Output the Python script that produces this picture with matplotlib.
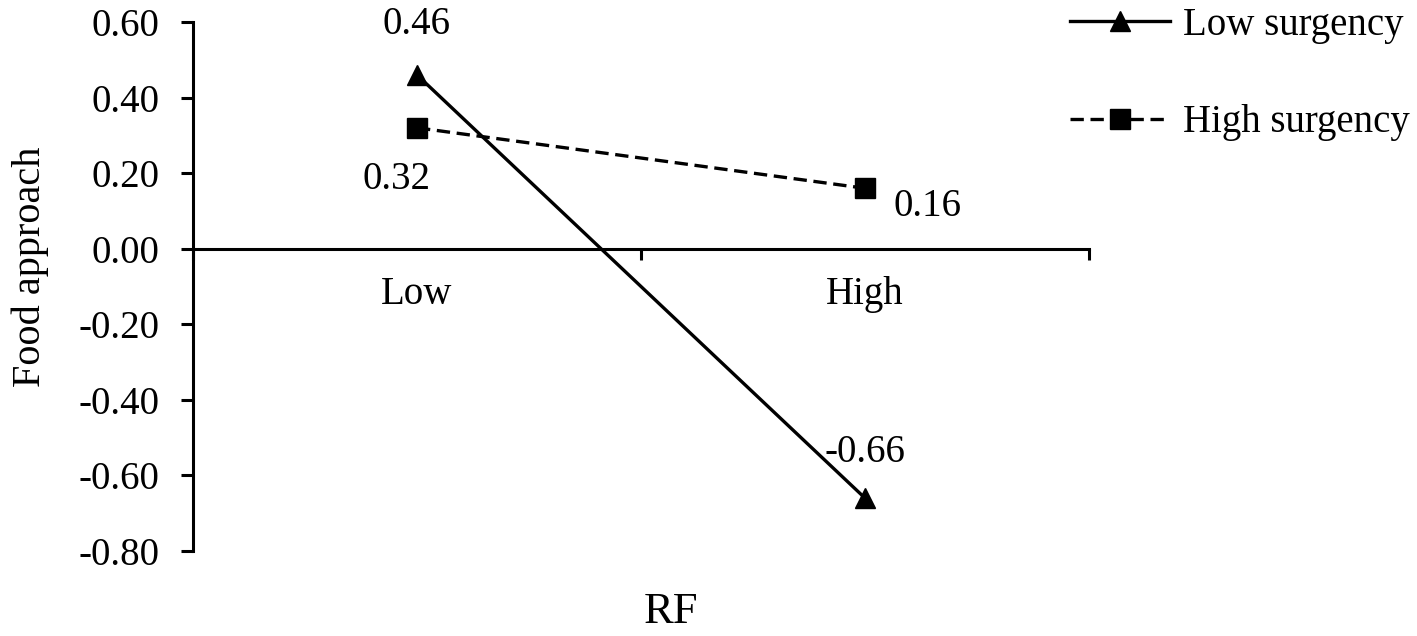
import matplotlib
matplotlib.use("Agg")
import matplotlib.pyplot as plt
from matplotlib.ticker import FixedLocator, FuncFormatter

plt.rcParams['font.family'] = ['Liberation Serif', 'DejaVu Serif']
plt.rcParams['axes.unicode_minus'] = False

categories = ["Low", "High"]
low_surgency = [0.46, -0.66]
high_surgency = [0.32, 0.16]
yticks = [-0.8, -0.6, -0.4, -0.2, 0.0, 0.2, 0.4, 0.6]

xpos = [0.5, 1.5]
fs = 28

fig = plt.figure(figsize=(14.17, 6.36), dpi=100)
ax = fig.add_axes([193 / 1417, 1 - 551 / 636, (1089 - 193) / 1417, (551 - 22) / 636])

ax.plot(xpos, low_surgency, color="black", lw=2.4, marker="^", ms=15,
        label="Low surgency", clip_on=False)
ax.plot(xpos, high_surgency, color="black", lw=2.4, ls=(0, (4, 2)), marker="s", ms=14,
        label="High surgency", clip_on=False)

# value labels
ax.annotate(f"{low_surgency[0]:.2f}", (xpos[0], low_surgency[0]), xytext=(0, 36),
            textcoords="offset points", ha="center", va="center", fontsize=fs)
ax.annotate(f"{low_surgency[1]:.2f}", (xpos[1], low_surgency[1]), xytext=(0, 33),
            textcoords="offset points", ha="center", va="center", fontsize=fs)
ax.annotate(f"{high_surgency[0]:.2f}", (xpos[0], high_surgency[0]), xytext=(-15, -37),
            textcoords="offset points", ha="center", va="center", fontsize=fs)
ax.annotate(f"{high_surgency[1]:.2f}", (xpos[1], high_surgency[1]), xytext=(45, -13),
            textcoords="offset points", ha="center", va="center", fontsize=fs)

ax.set_xlim(0, 2)
ax.set_ylim(-0.8, 0.6)
ax.spines["top"].set_visible(False)
ax.spines["right"].set_visible(False)
ax.spines["bottom"].set_position(("data", 0))
ax.spines["left"].set_linewidth(2.2)
ax.spines["bottom"].set_linewidth(2.2)

ax.set_yticks(yticks)
ax.yaxis.set_major_formatter(FuncFormatter(lambda v, p: f"{v:.2f}"))
ax.tick_params(axis="y", direction="out", length=9, width=2.2, pad=15, labelsize=fs)

ax.xaxis.set_major_locator(FixedLocator([0, 1, 2]))
ax.xaxis.set_major_formatter(FuncFormatter(lambda v, p: ""))
ax.xaxis.set_minor_locator(FixedLocator(xpos))
ax.set_xticklabels(categories, minor=True)
ax.tick_params(axis="x", which="major", direction="out", length=8, width=2.2)
ax.tick_params(axis="x", which="minor", length=0, pad=20, labelsize=fs)

fig.text(30 / 1417, 1 - 267 / 636, "Food approach", fontsize=29, rotation=90,
         ha="center", va="center")
fig.text(671 / 1417, 1 - 612 / 636, "RF", fontsize=32, ha="center", va="center")

fig.legend(loc="upper left", bbox_to_anchor=(1070 / 1417, 1 - 7 / 636), frameon=False,
           fontsize=fs, handlelength=2.57, handletextpad=0.33, labelspacing=1.55,
           borderpad=0, borderaxespad=0)

fig.savefig("out.png", dpi=100)
